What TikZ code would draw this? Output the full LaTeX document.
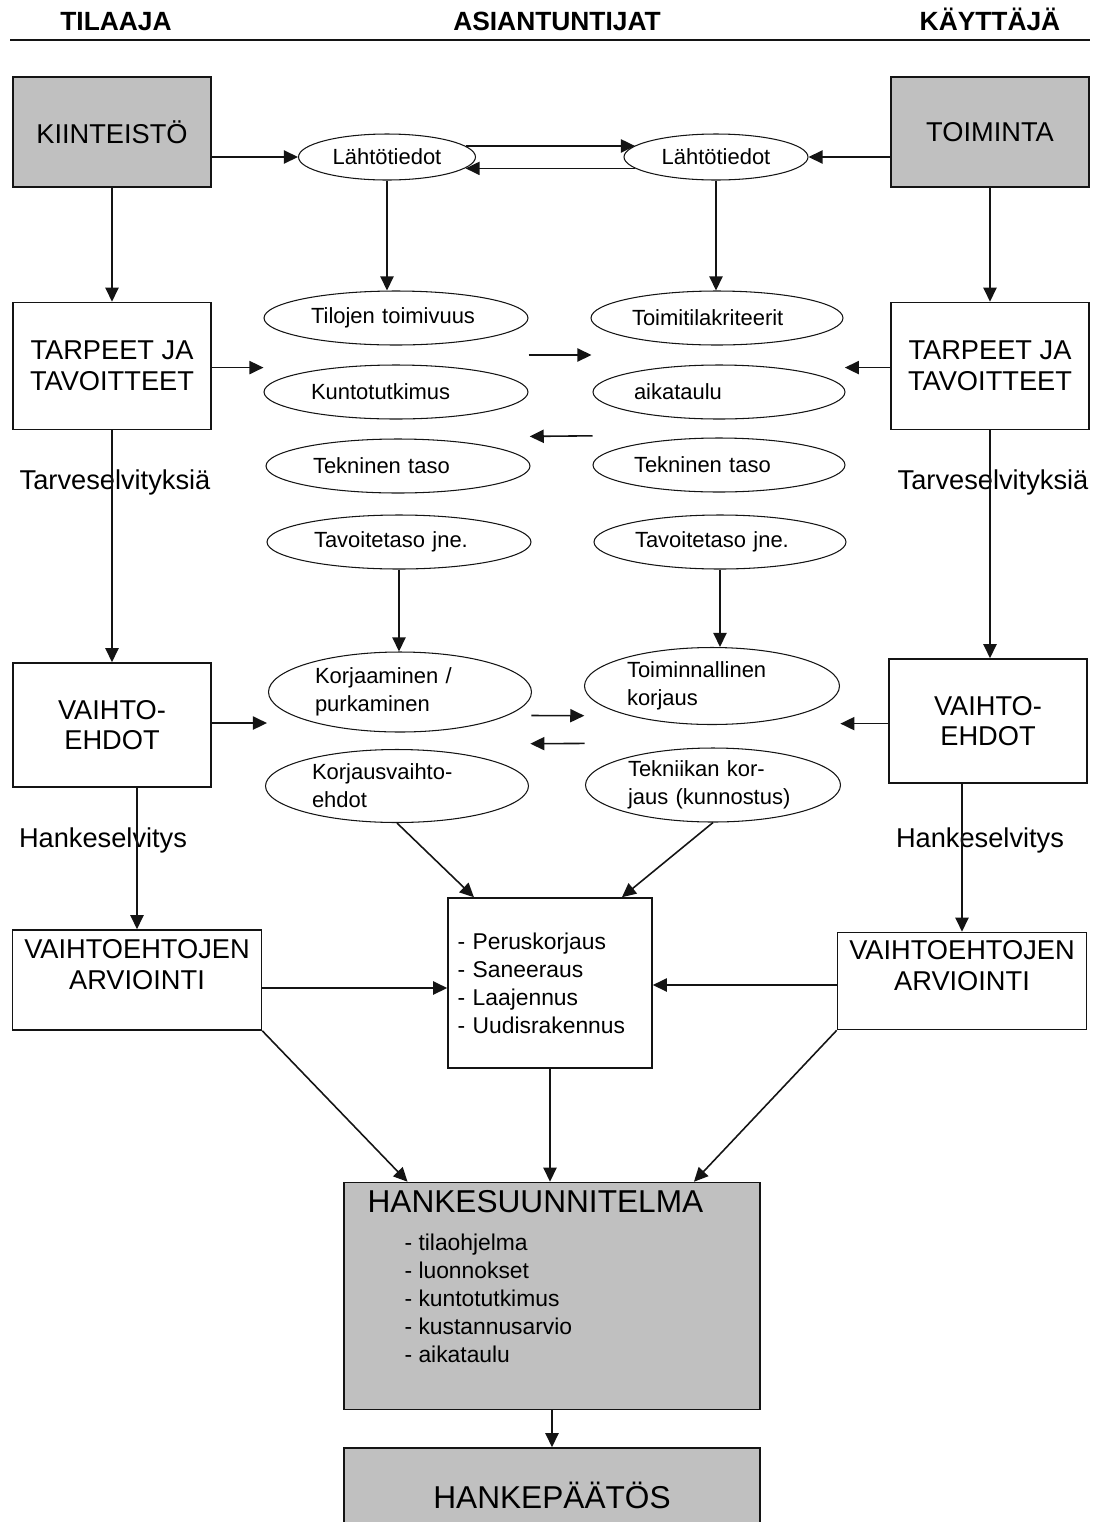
\documentclass[tikz,border=0pt]{standalone}
\usepackage{fontspec}
\setmainfont{Liberation Sans}
\usetikzlibrary{shapes,arrows.meta,positioning,calc}
\definecolor{boxGray}{RGB}{192,192,192}
\definecolor{lineBlack}{RGB}{20,20,20}

\begin{document}
\begin{tikzpicture}[
                x=0.02cm,y=-0.02cm,
                role/.style={anchor=base,font=\bfseries\fontsize{15}{18}\selectfont},
                box/.style={draw=lineBlack,line width=0.9pt,minimum width=3.96cm,
                            align=center,inner sep=2pt,font=\fontsize{15.5}{17.5}\selectfont},
                greybox/.style={box,fill=boxGray},
                oval/.style={ellipse,draw=lineBlack,line width=0.6pt,inner sep=0pt,
                             text width=3.4cm,align=left,font=\fontsize{12.5}{15.9}\selectfont},
                startoval/.style={ellipse,draw=lineBlack,line width=0.6pt,inner sep=0pt,
                                  minimum height=0.92cm,font=\fontsize{12.5}{15}\selectfont},
                sidenote/.style={font=\fontsize{15.5}{17.5}\selectfont},
                arr/.style={draw=lineBlack,line width=0.9pt,-{Triangle[length=8pt,width=7.5pt]}}
            ]
                \useasboundingbox (0,0) rectangle (1099,1522);
                \clip (0,0) rectangle (1099,1522);

                \node[role] (tilaaja) at (116,30) {TILAAJA};
                \node[role] (asiantuntijat) at (557,30) {ASIANTUNTIJAT};
                \node[role] (kayttaja) at (990,30) {KÄYTTÄJÄ};
                \draw[lineBlack,line width=1.2pt] (10,40) -- (1090,40);

                \node[greybox,minimum height=2.2cm] (kiinteisto) at (112,132) {KIINTEISTÖ};
                \node[greybox,minimum height=2.2cm] (toiminta) at (990,132) {TOIMINTA};
                \node[startoval,minimum width=3.54cm] (lahtoL) at (387,157) {Lähtötiedot};
                \node[startoval,minimum width=3.68cm] (lahtoR) at (716,157) {Lähtötiedot};

                \node[box,minimum height=2.54cm] (tarpeetL) at (112,366) {TARPEET JA\\TAVOITTEET};
                \node[box,minimum height=2.54cm] (tarpeetR) at (990,366) {TARPEET JA\\TAVOITTEET};

                \node[oval,minimum width=5.28cm,minimum height=1.08cm] (tilojen) at (396,318) {Tilojen toimivuus};
                \node[oval,minimum width=5.28cm,minimum height=1.08cm] (kunto) at (396,392) {Kuntotutkimus};
                \node[oval,minimum width=5.28cm,minimum height=1.08cm] (teknL) at (398,466) {Tekninen taso};
                \node[oval,minimum width=5.28cm,minimum height=1.08cm] (tavoiteL) at (399,542) {Tavoitetaso jne.};
                \node[oval,minimum width=5.04cm,minimum height=1.08cm] (kriteerit) at (717,318) {Toimitilakriteerit};
                \node[oval,minimum width=5.04cm,minimum height=1.08cm] (aikataulu) at (719,392) {aikataulu};
                \node[oval,minimum width=5.04cm,minimum height=1.08cm] (teknR) at (719,465) {Tekninen taso};
                \node[oval,minimum width=5.04cm,minimum height=1.08cm] (tavoiteR) at (720,542) {Tavoitetaso jne.};

                \node[sidenote] (tarveL) at (115,482) {Tarveselvityksiä};
                \node[sidenote] (tarveR) at (993,482) {Tarveselvityksiä};

                \node[box,minimum height=2.48cm] (vaihtoL) at (112,725) {VAIHTO-\\EHDOT};
                \node[box,minimum height=2.48cm] (vaihtoR) at (988,721) {VAIHTO-\\EHDOT};

                \node[oval,minimum width=5.26cm,minimum height=1.6cm] (korjaaminen) at (400,692) {Korjaaminen /\\purkaminen};
                \node[oval,minimum width=5.26cm,minimum height=1.46cm] (korjvaihto) at (397,786) {Korjausvaihto-\\ehdot};
                \node[oval,minimum width=5.1cm,minimum height=1.54cm] (toiminnallinen) at (712,686) {Toiminnallinen\\korjaus};
                \node[oval,minimum width=5.1cm,minimum height=1.48cm] (tekniikan) at (713,785) {Tekniikan kor-\\jaus (kunnostus)};

                \node[sidenote] (hankeselvL) at (103,840) {Hankeselvitys};
                \node[sidenote] (hankeselvR) at (980,840) {Hankeselvitys};

                \node[box,minimum width=4.98cm,minimum height=2cm] (evalL) at (137,980) {VAIHTOEHTOJEN\\ARVIOINTI\\\mbox{}};
                \node[box,minimum width=4.98cm,minimum height=1.94cm] (evalR) at (962,981) {VAIHTOEHTOJEN\\ARVIOINTI\\\mbox{}};
                \node[draw=lineBlack,line width=0.9pt,minimum width=4.08cm,minimum height=3.4cm,
                      text width=3.7cm,align=left,font=\fontsize{13}{15.9}\selectfont] (options) at (550,983)
                      {- Peruskorjaus\\- Saneeraus\\- Laajennus\\- Uudisrakennus};

                \node[draw=lineBlack,fill=boxGray,line width=0.9pt,minimum width=8.32cm,minimum height=4.54cm] (hanke) at (552,1296) {};
                \node[anchor=north west,inner sep=0pt,font=\fontsize{18}{20}\selectfont] (hankeTitle)
                      at ([xshift=0.48cm,yshift=-0.16cm]hanke.north west) {HANKESUUNNITELMA};
                \node[anchor=north west,inner sep=0pt,align=left,font=\fontsize{13}{15.9}\selectfont] (hankeList)
                      at ([xshift=1.22cm,yshift=-1.04cm]hanke.north west)
                      {- tilaohjelma\\- luonnokset\\- kuntotutkimus\\- kustannusarvio\\- aikataulu};
                \node[draw=lineBlack,fill=boxGray,line width=0.9pt,minimum width=8.32cm,minimum height=1.88cm,
                      font=\fontsize{18}{20}\selectfont] (paatos) at (552,1495) {HANKEPÄÄTÖS};

                \draw[arr] (kiinteisto.east |- lahtoL) -- (lahtoL.west);
                \draw[arr] (toiminta.west |- lahtoR) -- (lahtoR.east);
                \draw[arr] (lahtoL.8) -- (lahtoL.8 -| lahtoR.172);
                \draw[arr] (lahtoR.188) -- (lahtoR.188 -| lahtoL.352);
                \draw[arr] (kiinteisto.south) -- (tarpeetL.north);
                \draw[arr] (toiminta.south) -- (tarpeetR.north);
                \draw[arr] (lahtoL.south) -- (lahtoL.south |- tilojen.north);
                \draw[arr] (lahtoR.south) -- (lahtoR.south |- kriteerit.north);

                \coordinate (gapL1) at ($(tilojen.west)!0.67!(kunto.west)$);
                \coordinate (gapR1) at ($(kriteerit.east)!0.67!(aikataulu.east)$);
                \draw[arr] (tarpeetL.east |- gapL1) -- (gapL1);
                \draw[arr] (tarpeetR.west |- gapR1) -- (gapR1);
                \draw[arr] ($(tilojen.east)!0.5!(kunto.east)$) -- ($(kriteerit.west)!0.5!(aikataulu.west)$);
                \draw[arr] ($(aikataulu.west)!0.6!(teknR.west)$) -- ($(kunto.east)!0.6!(teknL.east)$);

                \draw[arr] (tarpeetL.south) -- (vaihtoL.north);
                \draw[arr] (tarpeetR.south) -- (tarpeetR.south |- vaihtoR.north);
                \draw[arr] (tavoiteL.south) -- (tavoiteL.south |- korjaaminen.north);
                \draw[arr] (tavoiteR.south) -- (tavoiteR.south |- toiminnallinen.north);

                \coordinate (gapL2) at ($(korjaaminen.west)!0.33!(korjvaihto.west)$);
                \coordinate (gapR2) at ($(toiminnallinen.east)!0.38!(tekniikan.east)$);
                \draw[arr] (vaihtoL.east |- gapL2) -- (gapL2);
                \draw[arr] (vaihtoR.west |- gapR2) -- (gapR2);
                \draw[arr] ($(korjaaminen.east)!0.25!(korjvaihto.east)$) -- ($(toiminnallinen.west)!0.3!(tekniikan.west)$);
                \draw[arr] ($(toiminnallinen.west)!0.58!(tekniikan.west)$) -- ($(korjaaminen.east)!0.55!(korjvaihto.east)$);

                \draw[arr] (evalL.north |- vaihtoL.south) -- (evalL.north);
                \draw[arr] (evalR.north |- vaihtoR.south) -- (evalR.north);
                \draw[arr] (korjvaihto.south) -- ($(options.north west)!0.13!(options.north east)$);
                \draw[arr] (tekniikan.south) -- ($(options.north west)!0.85!(options.north east)$);
                \draw[arr] ([yshift=-0.16cm]evalL.east) -- ([yshift=-0.16cm]evalL.east -| options.west);
                \draw[arr] ([yshift=-0.08cm]evalR.east -| evalR.west) -- ([yshift=-0.08cm]evalR.east -| options.east);

                \draw[arr] (evalL.south east) -- ($(hanke.north west)!0.154!(hanke.north east)$);
                \draw[arr] (evalR.south west) -- ($(hanke.north west)!0.84!(hanke.north east)$);
                \draw[arr] (options.south) -- (options.south |- hanke.north);
                \draw[arr] (hanke.south) -- (paatos.north);
            \end{tikzpicture}
\end{document}
